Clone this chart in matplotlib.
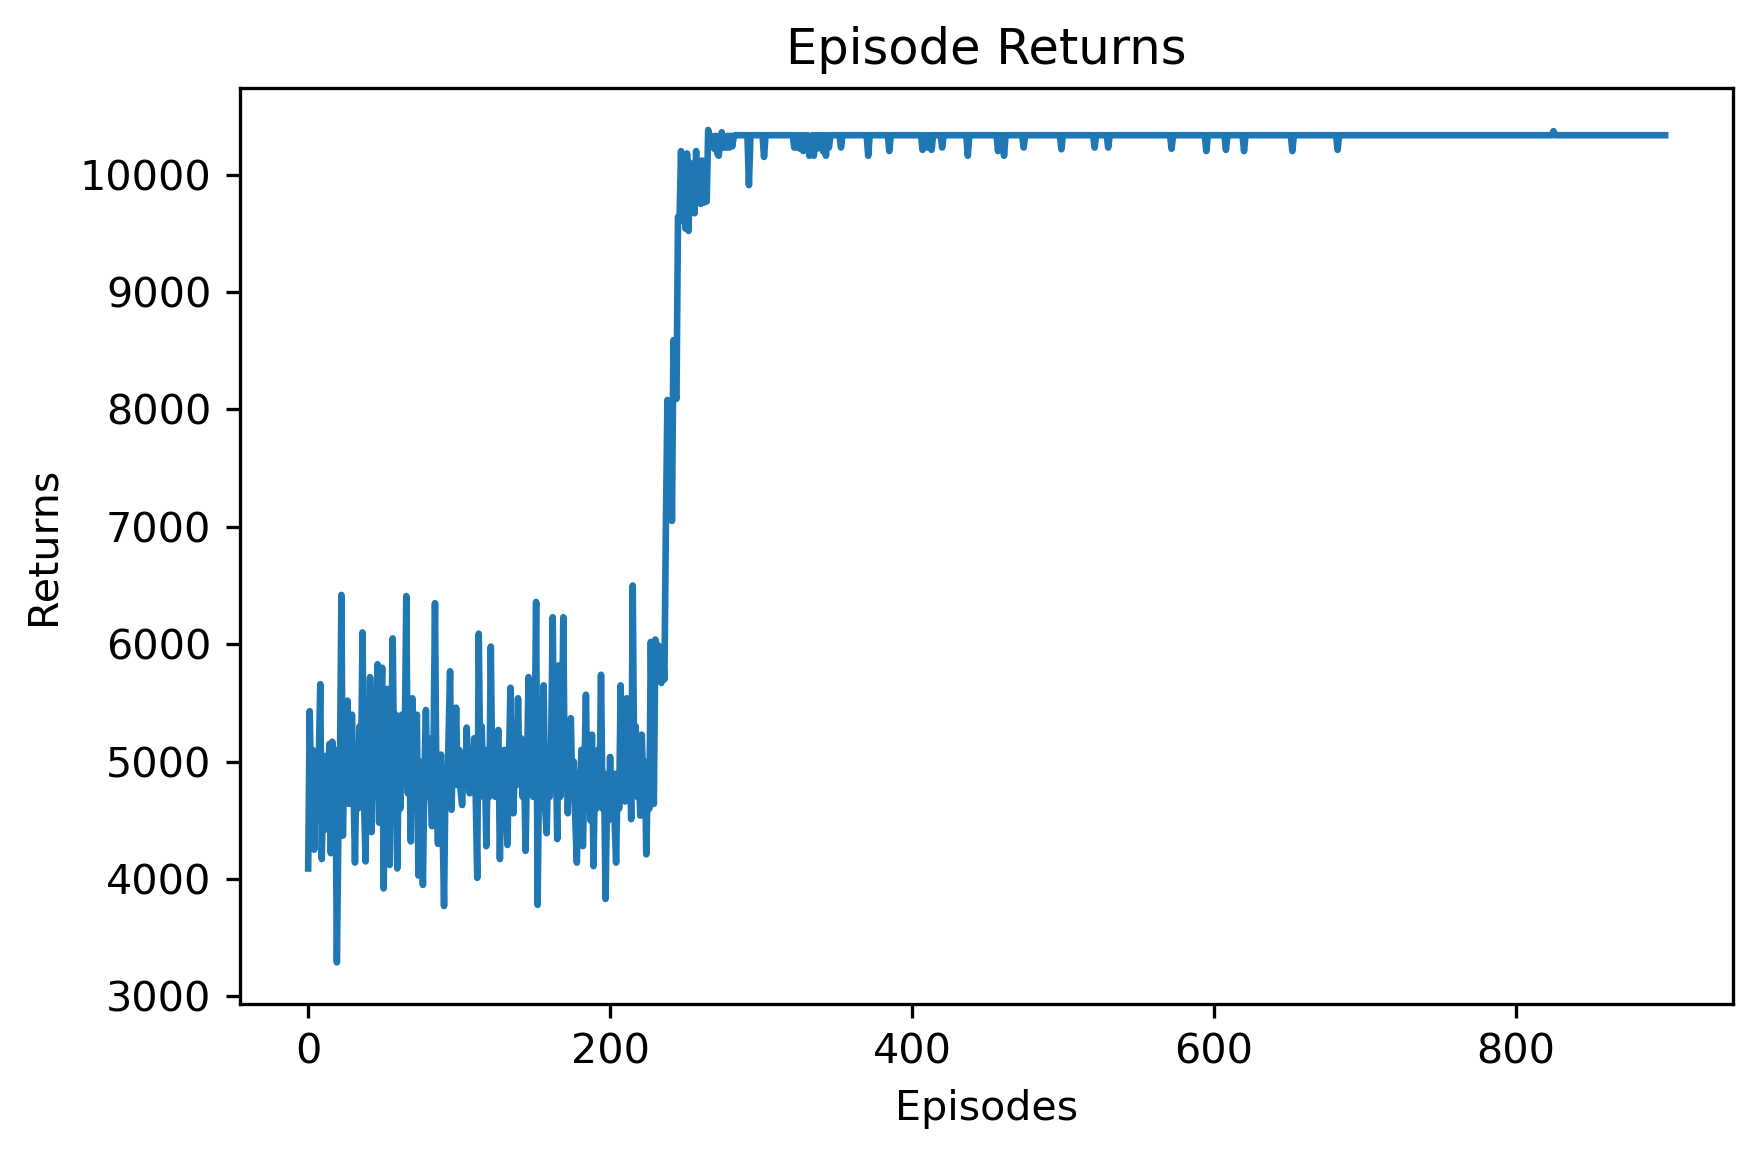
import numpy as np
import matplotlib.pyplot as plt

''' Episode Returns 曲线 '''

# 前期震荡 + 爬升阶段 (episode 0 ~ 282)
early_returns = [
    4090, 5430, 4700, 5100, 4250, 4900, 4500, 5000, 5660, 4170,
    4800, 4420, 5050, 4600, 5150, 4220, 5170, 4700, 5100, 3290,
    4400, 4880, 6420, 4370, 5200, 4700, 5520, 4640, 5000, 5400,
    4800, 4140, 5000, 4600, 5300, 4900, 6100, 4700, 4150, 5200,
    4800, 5720, 4400, 5100, 4700, 5300, 5830, 4480, 5300, 5800,
    3920, 4900, 5620, 4700, 4120, 5200, 6050, 4800, 5400, 4090,
    5000, 4600, 5400, 4800, 5200, 6410, 4730, 5100, 4320, 5540,
    4600, 5000, 5400, 4030, 5000, 4700, 3950, 4900, 5440, 4700,
    5200, 4800, 4450, 5050, 6350, 4700, 4300, 4900, 5060, 4500,
    3770, 4900, 4650, 5200, 5770, 4590, 5200, 4900, 5460, 4800,
    5100, 4750, 4630, 5050, 4800, 5290, 4900, 4730, 5100, 4800,
    5200, 4700, 4010, 6090, 4900, 5300, 4700, 5100, 4280, 5000,
    4700, 5980, 4800, 5200, 4700, 5100, 5270, 4170, 4900, 4600,
    5100, 4700, 4290, 5000, 5630, 4800, 4560, 5100, 4800, 5540,
    4900, 5200, 4700, 5000, 4240, 5000, 5720, 4800, 5300, 4700,
    5100, 6360, 3780, 5000, 4700, 5300, 5650, 4600, 4390, 5000,
    4700, 5200, 6230, 4800, 5100, 4340, 5820, 4700, 5000, 6230,
    4800, 5200, 4560, 5000, 5370, 4700, 5000, 4500, 4140, 4900,
    4600, 5100, 4280, 4900, 5570, 4700, 5000, 4500, 5230, 4110,
    4900, 4600, 5100, 4700, 5740, 4600, 4900, 3830, 4700, 4500,
    5040, 4600, 4900, 4500, 4140, 4900, 4600, 5650, 4800, 5100,
    4660, 5540, 4900, 5200, 4510, 6500, 4900, 5300, 4700, 5000,
    4540, 5230, 4800, 5000, 4210, 4900, 4600, 6020, 5000, 4640,
    6040, 5700, 5990, 5800, 5670, 5900, 5700, 7040, 8080, 7100,
    7950, 7050, 8590, 8150, 8090, 9640, 9600, 10200, 9650, 10090,
    9540, 10180, 9520, 10100, 9700, 10050, 9670, 10200, 9760, 10050,
    9750, 10120, 9760, 10050, 9770, 10380, 10280, 10330, 10290, 10220,
    10330, 10180, 10160, 10300, 10360, 10230, 10320, 10230, 10330, 10230,
    10330, 10240, 10330,
]

# 收敛后的平台值以及偶尔的下探
n_episodes = 900
plateau_level = 10335
dip_episodes = [292, 302, 322, 324, 326, 328, 330, 332, 333, 335,
                337, 339, 341, 343, 345, 353, 371, 385, 407, 409,
                411, 413, 420, 437, 457, 459, 461, 474, 499, 521,
                530, 572, 595, 608, 620, 652, 682, 825]
dip_returns = [9910, 10150, 10230, 10230, 10220, 10200, 10240, 10160, 10230, 10160,
               10220, 10240, 10200, 10160, 10230, 10230, 10160, 10200, 10210, 10230,
               10230, 10210, 10230, 10160, 10200, 10230, 10160, 10230, 10215, 10230,
               10230, 10220, 10200, 10210, 10200, 10200, 10210, 10370]

returns = np.full(n_episodes, plateau_level, dtype=float)
returns[:len(early_returns)] = early_returns
returns[dip_episodes] = dip_returns
episodes = np.arange(n_episodes)

fig = plt.figure(figsize=(1753 / 297, 1159 / 297), dpi=297)
ax = fig.add_axes([0.1371, 0.1337, 0.9886 - 0.1371, 0.9238 - 0.1337])
ax.plot(episodes, returns, linewidth=1.6)
ax.set_xlabel('Episodes')
ax.set_ylabel('Returns')
ax.set_title('Episode Returns')

fig.savefig('out.png', dpi=297)
